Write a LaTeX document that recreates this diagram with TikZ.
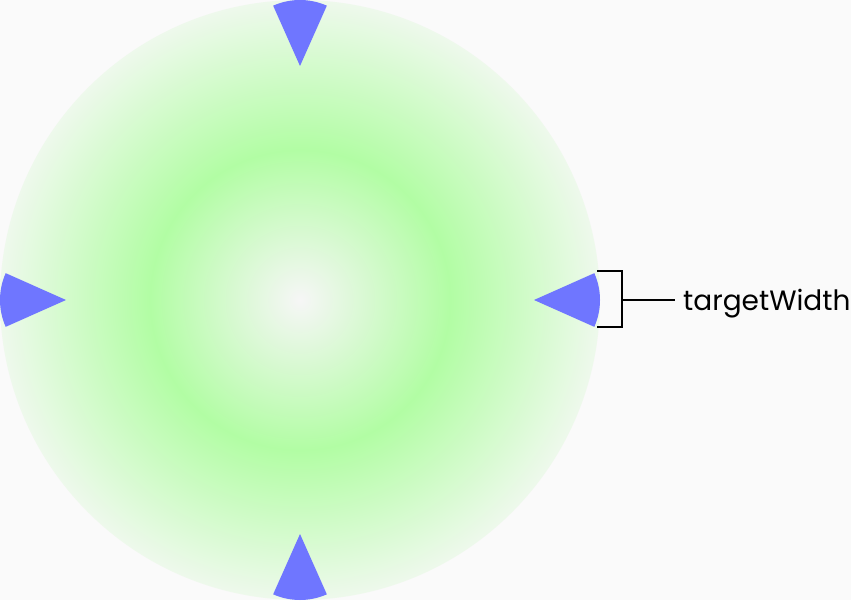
\documentclass[tikz,border=0pt]{standalone}
\usepackage{fontspec}
\setmainfont{Poppins}
\usetikzlibrary{calc,positioning}
\definecolor{bgGray}{HTML}{FAFAFA}
\definecolor{markBlue}{HTML}{6F76FF}
\definecolor{glowCore}{HTML}{F6F6F6}
\definecolor{glowMid}{HTML}{B2FDA4}
\definecolor{glowEdge}{HTML}{EEF9EC}
\pgfdeclareradialshading{discglow}{\pgfpoint{0bp}{0bp}}{%
  color(0bp)=(glowCore); color(12.5bp)=(glowMid); color(25bp)=(glowEdge); color(50bp)=(glowEdge)}

\begin{document}
\begin{tikzpicture}[x=1pt,y=1pt,
  marker/.style={fill=markBlue},
  bracket/.style={draw=black, line width=2pt}]
\fill[bgGray] (0,0) rectangle (851,600);
\useasboundingbox (0,0) rectangle (851,600);
\node[circle, minimum size=600pt, inner sep=0pt, shading=discglow] (Disc) at (300,300) {};
% the four target markers
\fill[marker] ($(Disc.center)+(234,0)$) -- ++(-24:66) arc[start angle=-24, end angle=24, radius=66] -- cycle;
\fill[marker] ($(Disc.center)+(0,234)$) -- ++(66:66) arc[start angle=66, end angle=114, radius=66] -- cycle;
\fill[marker] ($(Disc.center)+(-234,0)$) -- ++(156:66) arc[start angle=156, end angle=204, radius=66] -- cycle;
\fill[marker] ($(Disc.center)+(0,-234)$) -- ++(246:66) arc[start angle=246, end angle=294, radius=66] -- cycle;
% width bracket
\coordinate (BrTop) at (597,329);
\coordinate (BrBot) at (597,273);
\node[anchor=base west, inner sep=0pt, font=\fontsize{28}{32}\selectfont] (Label) at (683,289) {targetWidth};
\draw[bracket] (BrTop) -- ++(25,0) coordinate (BrCorner) |- (BrBot);
\draw[bracket] (BrCorner |- Disc.center) -- ($(Disc.center -| Label.west)+(-8,0)$);
\end{tikzpicture}
\end{document}
